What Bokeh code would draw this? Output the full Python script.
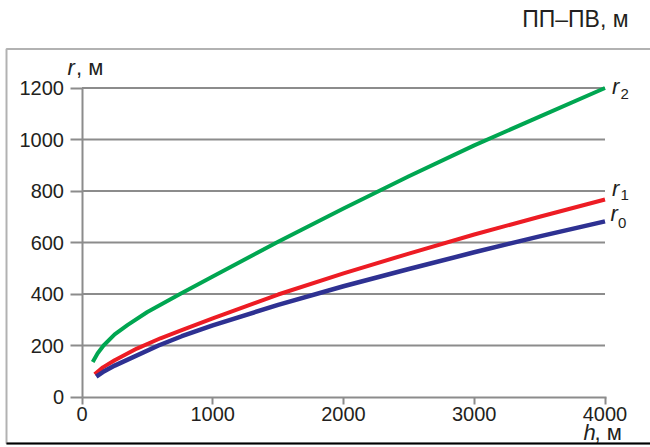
from bokeh.plotting import figure
from bokeh.models import Range1d, Label, BoxAnnotation, FixedTicker
from bokeh.embed import file_html
from bokeh.resources import INLINE

# ---- data ----
h_r0 = [109, 170, 250, 585, 763, 1000, 1500, 2000, 2500, 3000, 3500, 4000]
r0 = [79, 100, 122, 200, 236, 278, 358, 430, 497, 562, 624, 682]

h_r1 = [97, 160, 250, 420, 600, 763, 1000, 1500, 2000, 2500, 3000, 3500, 4000]
r1 = [88, 115, 143, 188, 228, 260, 305, 398, 480, 557, 631, 700, 767]

h_r2 = [82, 120, 165, 250, 350, 500, 750, 1000, 1500, 2000, 2500, 3000, 3500, 4000]
r2 = [136, 170, 200, 243, 280, 330, 400, 468, 603, 732, 857, 977, 1089, 1200]

x_ticks = [0, 1000, 2000, 3000, 4000]
y_ticks = [0, 200, 400, 600, 800, 1000, 1200]

title_text = "ПП–ПВ, м"
x_label = ("h", ", м")
y_label = ("r", ", м")

INK = "#231f20"
GRAY = "#8c8c8c"
FONT = "Liberation Sans"

# ---- layout: the plot frame fills the whole canvas ----
W, H = 650, 447
X0, Y0 = 81.5, 396.5            # canvas px of h=0, r=0
PXH = 523.0 / 4000              # px per metre of h
PXR = 309.0 / 1200              # px per metre of r


def dx(px):
    return (px - X0) / PXH


def dy(py):
    return (Y0 - py) / PXR


p = figure(width=W, height=H, output_backend="svg", toolbar_location=None,
           x_range=Range1d(dx(0), dx(W)), y_range=Range1d(dy(H), dy(0)),
           min_border=0)
p.outline_line_color = None
p.background_fill_color = "white"
p.border_fill_color = "white"
p.xgrid.visible = False
p.ygrid.visible = False

# grid lines built from the tick values
n = len(y_ticks) - 1
p.segment(x0=[x_ticks[0]] * n, y0=y_ticks[1:], x1=[x_ticks[-1]] * n, y1=y_ticks[1:],
          line_color=GRAY, line_width=2)

p.xaxis.ticker = FixedTicker(ticks=x_ticks)
p.yaxis.ticker = FixedTicker(ticks=y_ticks)
p.xaxis.fixed_location = y_ticks[0]
p.yaxis.fixed_location = x_ticks[0]
p.xaxis.bounds = (x_ticks[0], x_ticks[-1] + 10)
p.yaxis.bounds = (y_ticks[0], y_ticks[-1])
for ax in (p.xaxis, p.yaxis):
    ax.axis_line_color = GRAY
    ax.axis_line_width = 2
    ax.major_tick_line_color = GRAY
    ax.major_tick_line_width = 2
    ax.major_tick_in = 0
    ax.minor_tick_line_color = None
    ax.major_label_text_font = FONT
    ax.major_label_text_font_size = "20px"
    ax.major_label_text_color = INK
p.xaxis.major_tick_out = 7
p.xaxis.major_label_standoff = 3
p.yaxis.major_tick_out = 12
p.yaxis.major_label_standoff = 6

p.line(h_r2, r2, line_color="#00a651", line_width=4, line_join="round")
p.line(h_r1, r1, line_color="#ed1c24", line_width=4, line_join="round")
p.line(h_r0, r0, line_color="#2e3192", line_width=4.5, line_join="round")

SHIFT = 10  # correction of the text baseline placement


def lab(x, y, text, xo, yo, size="22px", italic=False, align="left"):
    p.add_layout(Label(x=x, y=y, text=text, x_offset=xo, y_offset=yo + SHIFT,
                       text_font=FONT, text_font_size=size,
                       text_font_style="italic" if italic else "normal",
                       text_color=INK, text_align=align,
                       text_baseline="alphabetic"))


# curve labels
lab(h_r2[-1], r2[-1], "r", 7, -8, italic=True)
lab(h_r2[-1], r2[-1], "2", 15.5, -15.5, size="15px")
lab(h_r1[-1], r1[-1], "r", 7, 1, italic=True)
lab(h_r1[-1], r1[-1], "1", 15.5, -6, size="15px")
lab(h_r0[-1], r0[-1], "r", 5.5, -2, italic=True)
lab(h_r0[-1], r0[-1], "0", 13, -12, size="15px")

# axis titles
lab(x_ticks[0], y_ticks[-1], y_label[0], -14.5, 10.5, italic=True)
lab(x_ticks[0], y_ticks[-1], y_label[1], -6, 10.5)
lab(x_ticks[-1], y_ticks[0], x_label[0], -21.5, -45, italic=True)
lab(x_ticks[-1], y_ticks[0], x_label[1], -10.5, -45)

# header
lab(x_ticks[-1], y_ticks[-1], title_text, 23.5, 59.2, size="23px", align="right")

# outer frame (left, top and bottom edges visible; right edge off-canvas)
p.add_layout(BoxAnnotation(left=dx(6), right=dx(W + 20), top=dy(48.5), bottom=dy(H - 4),
                           fill_color=None, line_color="black", line_width=2))
p.segment(x0=[dx(6)], y0=[dy(H - 4)], x1=[dx(W + 20)], y1=[dy(H - 4)],
          line_color="black", line_width=2)

open("out.html", "w").write(file_html(p, INLINE))
